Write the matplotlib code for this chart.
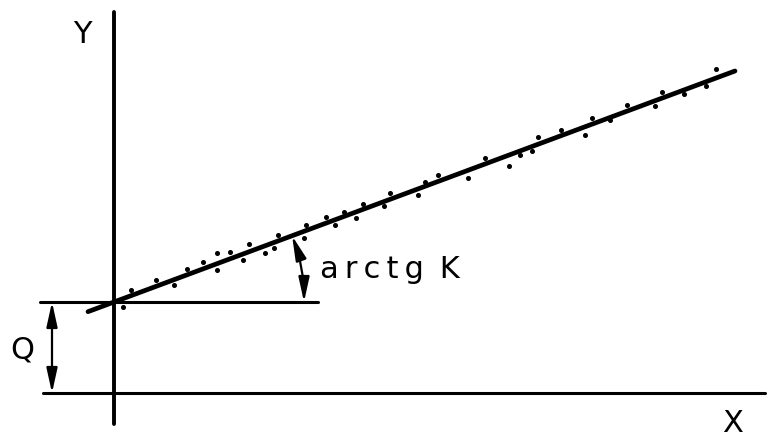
import numpy as np
import matplotlib.pyplot as plt
from matplotlib.patches import FancyArrowPatch

# measured points (x, y) scattered around the regression line
x_pts = [0.9, 1.7, 4.2, 6.0, 7.3, 8.9, 10.3, 10.3, 11.6, 12.9, 13.5, 15.1, 16.0, 16.4,
         19.0, 19.2, 21.2, 22.1, 23.0, 24.2, 24.9, 27.0, 27.6, 30.4, 31.1, 32.4, 35.4,
         37.1, 39.5, 40.6, 41.8, 42.4, 44.7, 47.1, 47.8, 49.6, 51.3, 54.1, 54.8, 57.0,
         59.2, 60.2]
y_pts = [8.6, 10.3, 11.3, 10.8, 12.4, 13.1, 14.0, 12.3, 14.1, 13.3, 14.9, 14.0, 14.5, 15.8,
         15.5, 16.8, 17.6, 16.8, 18.1, 17.5, 18.9, 18.7, 20.0, 19.8, 21.1, 21.8, 21.5,
         23.5, 22.7, 23.8, 24.2, 25.6, 26.3, 25.8, 27.5, 27.3, 28.8, 28.7, 30.1, 29.9,
         30.7, 32.4]

Q = 9.1      # intercept
K = 0.372    # slope
line_x = [-2.6, 62.1]
arc_r = 19.0

fig = plt.figure(figsize=(7.72, 4.39), dpi=100)
ax = fig.add_axes([0, 0, 1, 1])
ax.set_xlim(-11.4, 65.8)
ax.set_ylim(-4.5, 39.4)
ax.axis('off')

# axes
ax.plot([0, 0], [-3.1, 38.1], color='black', lw=2.8, solid_capstyle='round')
ax.plot([-7.1, 65.1], [0, 0], color='black', lw=2.2, solid_capstyle='round')

# regression line and points
lx = np.array(line_x)
ax.plot(lx, Q + K * lx, color='black', lw=3.4, solid_capstyle='round')
ax.plot(x_pts, y_pts, 'o', color='black', markersize=2.6)

# horizontal reference at the intercept
ax.plot([-7.4, 20.4], [Q, Q], color='black', lw=2.2, solid_capstyle='round')

head = '<|-|>,head_length=5,head_width=1.1'

# Q dimension arrow
ax.add_patch(FancyArrowPatch((-6.2, 0), (-6.2, Q), arrowstyle=head,
                             mutation_scale=3, color='black', lw=1.6, shrinkA=0, shrinkB=0))

# angle arc
ang = np.arctan(K)
p0 = (arc_r, Q)
p1 = (arc_r * np.cos(ang), Q + arc_r * np.sin(ang))
ax.add_patch(FancyArrowPatch(p0, p1, connectionstyle='arc3,rad=0.09', arrowstyle=head,
                             mutation_scale=3, color='black', lw=1.6, shrinkA=0, shrinkB=0))

ax.text(-3.2, 35.9, 'Y', fontsize=22, ha='center', va='center')
ax.text(61.9, -3.0, 'X', fontsize=22, ha='center', va='center')
ax.text(-9.2, 4.4, 'Q', fontsize=22, ha='center', va='center')
ax.text(20.6, 12.4, 'a\u2009r\u2009c\u2009t\u2009g\u2009 K', fontsize=22, ha='left', va='center')

fig.savefig('out.png', dpi=100)
